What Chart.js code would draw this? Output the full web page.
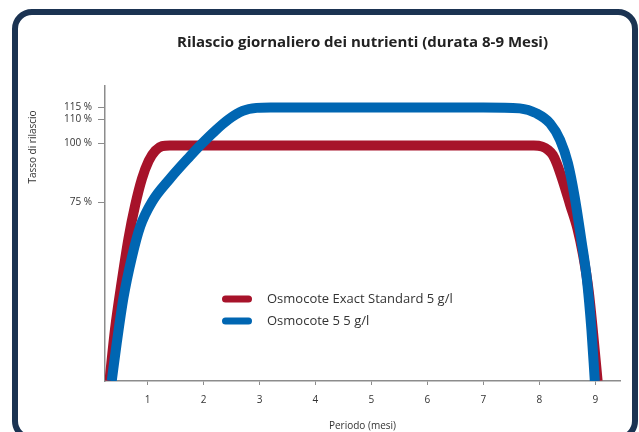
<!DOCTYPE html>
<html>
<head>
<meta charset="utf-8">
<script src="https://cdn.jsdelivr.net/npm/chart.js@4"></script>
<style>
  html, body { margin: 0; padding: 0; background: #fff; }
  #wrap { position: relative; width: 639px; height: 432px; overflow: hidden; }
  #card { position: absolute; left: 12px; top: 9px; width: 614px; height: 420px;
          border: 6px solid #1b3352; border-radius: 20px; }
  #myChart { position: absolute; left: 0; top: 0; }
</style>
</head>
<body>
<div id="wrap">
  <div id="card"></div>
  <canvas id="myChart" width="639" height="432"></canvas>
</div>
<script>
const chartTitle = 'Rilascio giornaliero dei nutrienti (durata 8-9 Mesi)';
const yTitle = 'Tasso di rilascio';
const xTitle = 'Periodo (mesi)';
const seriesLabels = ['Osmocote Exact Standard 5 g/l', 'Osmocote 5 5 g/l'];

const xTicks = [1, 2, 3, 4, 5, 6, 7, 8, 9];
const yTicks = [75, 100, 110, 115];

// Osmocote Exact Standard (red)
const exactMonths = [0.32, 0.42, 0.54, 0.66, 0.78, 0.9, 1.02, 1.14, 1.26, 1.4, 3, 5, 7, 7.9, 8.05, 8.16, 8.24, 8.31, 8.42, 8.55, 8.68, 8.78, 8.88, 8.96, 9.04];
const exactRate   = [0, 22, 42, 60, 74, 85, 92.5, 96.8, 98.7, 99, 99, 99, 99, 99, 98.5, 97, 95, 91.5, 84, 74, 64, 53, 38, 20, 0];

// Osmocote 5 (blue)
const classicMonths = [0.36, 0.45, 0.57, 0.72, 0.87, 1.08, 1.4, 1.76, 1.96, 2.2, 2.45, 2.7, 2.95, 3.2, 5, 7, 7.65, 7.95, 8.19, 8.37, 8.51, 8.63, 8.75, 8.85, 8.93, 8.99];
const classicRate   = [0, 16, 35, 52, 65, 75.3, 85, 94.5, 99.5, 105, 110, 113.5, 114.8, 115, 115, 115, 114.6, 112.5, 108.3, 101.3, 91.5, 77.4, 59.2, 42.4, 21.4, 0];

const axisGray = '#8c8c8c';
const textColor = '#333333';

Chart.defaults.font.family = '"Open Sans", sans-serif';
Chart.defaults.color = textColor;

// y axis title and legend drawn by hand, the original places them freely
const extras = {
  id: 'extras',
  afterDraw(chart) {
    const { ctx, chartArea } = chart;
    ctx.save();
    ctx.fillStyle = textColor;
    ctx.font = '10px "Open Sans"';
    ctx.textAlign = 'center';
    ctx.textBaseline = 'middle';
    ctx.translate(33, 147);
    ctx.rotate(-Math.PI / 2);
    ctx.fillText(yTitle, 0, 0);
    ctx.restore();

    const x = chartArea.left + 117;
    chart.data.datasets.forEach((ds, i) => {
      const y = chartArea.top + 213 + i * 22;
      ctx.save();
      ctx.strokeStyle = ds.borderColor;
      ctx.lineWidth = 7;
      ctx.lineCap = 'round';
      ctx.beginPath();
      ctx.moveTo(x + 3.5, y);
      ctx.lineTo(x + 26.5, y);
      ctx.stroke();
      ctx.fillStyle = textColor;
      ctx.font = '13px "Open Sans"';
      ctx.textAlign = 'left';
      ctx.textBaseline = 'middle';
      ctx.fillText(ds.label, x + 45, y);
      ctx.restore();
    });
  }
};

const ctx = document.getElementById('myChart').getContext('2d');
const myChart = new Chart(ctx, {
  type: 'line',
  data: {
    datasets: [
      {
        label: seriesLabels[0],
        data: exactMonths.map((m, i) => ({ x: m, y: exactRate[i] })),
        borderColor: '#a7132a',
        order: 1,
      },
      {
        label: seriesLabels[1],
        data: classicMonths.map((m, i) => ({ x: m, y: classicRate[i] })),
        borderColor: '#0066b2',
        order: 0,
      },
    ],
  },
  options: {
    responsive: false,
    animation: false,
    devicePixelRatio: 1,
    layout: {
      padding: { top: 0, right: 19, bottom: 0, left: 0 },
    },
    elements: {
      line: {
        borderWidth: 10,
        fill: false,
        cubicInterpolationMode: 'monotone',
        borderJoinStyle: 'round',
      },
      point: { radius: 0 },
    },
    datasets: {
      line: { clip: 0 },
    },
    plugins: {
      legend: { display: false },
      tooltip: { enabled: false },
      title: {
        display: true,
        text: chartTitle,
        fullSize: false,
        color: '#222222',
        font: { size: 15, weight: '700' },
        padding: { top: 34, bottom: 34 },
      },
    },
    scales: {
      x: {
        type: 'linear',
        min: 0.24,
        max: 9.44,
        afterFit(scale) { scale.height = 51; },
        afterBuildTicks(scale) { scale.ticks = xTicks.map(v => ({ value: v })); },
        grid: { drawOnChartArea: false, tickLength: 4, color: axisGray },
        border: { color: axisGray, width: 1.5 },
        ticks: { padding: 9, color: textColor, autoSkip: false, font: { size: 10 } },
        title: {
          display: true,
          text: xTitle,
          color: textColor,
          font: { size: 10 },
          padding: { top: 0, bottom: 0 },
        },
      },
      y: {
        type: 'linear',
        min: 0,
        max: 124,
        afterFit(scale) { scale.width = 105; },
        afterBuildTicks(scale) { scale.ticks = yTicks.map(v => ({ value: v })); },
        grid: { drawOnChartArea: false, tickLength: 7, color: axisGray },
        border: { color: axisGray, width: 1.5 },
        ticks: {
          padding: 6,
          color: textColor,
          autoSkip: false,
          font: { size: 10 },
          callback: function (value) {
            return value + ' %';
          },
        },
      },
    },
  },
  plugins: [extras],
});
</script>
</body>
</html>
